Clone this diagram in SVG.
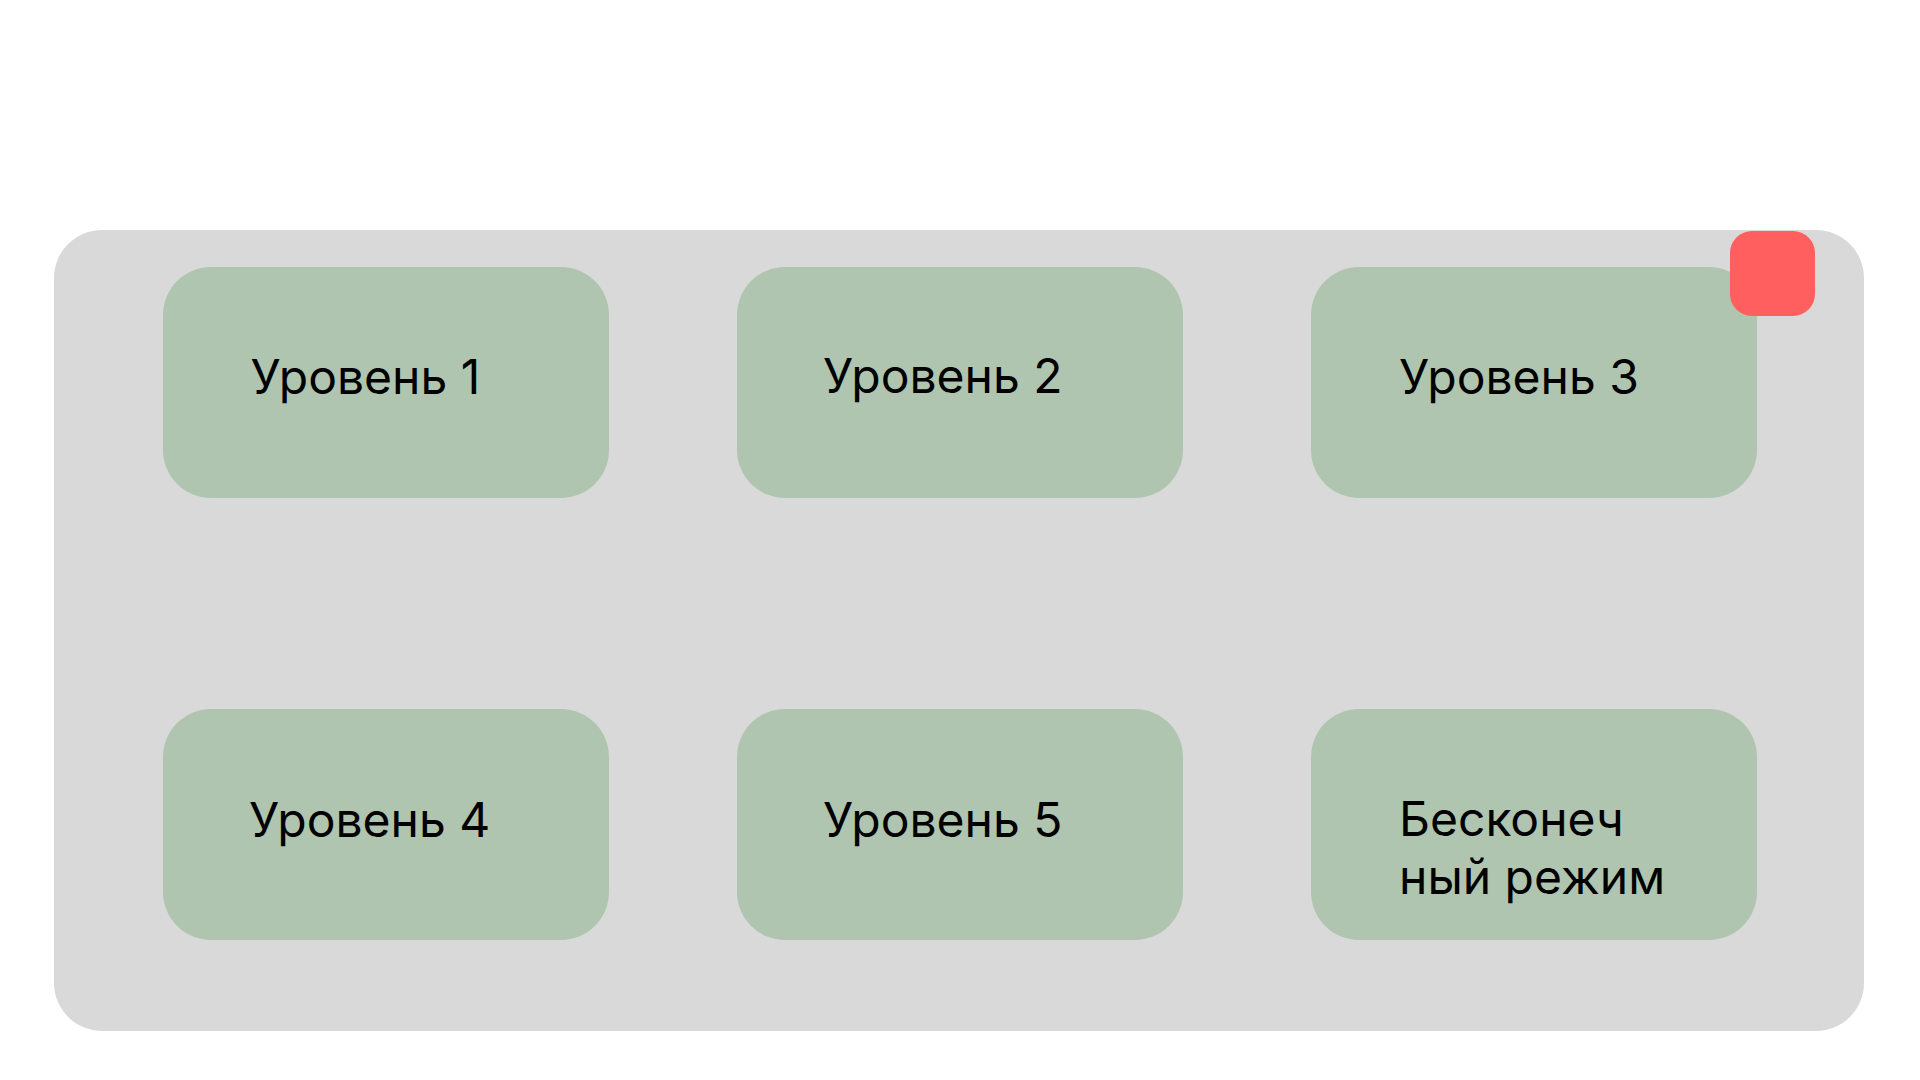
<svg xmlns="http://www.w3.org/2000/svg" width="1920" height="1080" viewBox="0 0 1920 1080">
  <style>
    .panel { fill: #D9D9D9; }
    .node { fill: #AFC5AF; }
    .close { fill: #FF5F5F; }
    .label { font-family: Inter, "Noto Sans", "Liberation Sans", sans-serif; font-size: 48px; fill: #000000; }
  </style>
  <rect width="1920" height="1080" fill="#FFFFFF"/>
  <g id="panel">
    <rect class="panel" x="54" y="230" width="1810" height="801" rx="48" ry="48"/>
  </g>
  <g id="level1">
    <rect class="node" x="163" y="267" width="446" height="231" rx="48" ry="48"/>
    <text class="label" x="250.5" y="394">Уровень 1</text>
  </g>
  <g id="level2">
    <rect class="node" x="737" y="267" width="446" height="231" rx="48" ry="48"/>
    <text class="label" x="823" y="393">Уровень 2</text>
  </g>
  <g id="level3">
    <rect class="node" x="1311" y="267" width="446" height="231" rx="48" ry="48"/>
    <text class="label" x="1399" y="394">Уровень 3</text>
  </g>
  <g id="level4">
    <rect class="node" x="163" y="709" width="446" height="231" rx="48" ry="48"/>
    <text class="label" x="249" y="837">Уровень 4</text>
  </g>
  <g id="level5">
    <rect class="node" x="737" y="709" width="446" height="231" rx="48" ry="48"/>
    <text class="label" x="823" y="837">Уровень 5</text>
  </g>
  <g id="endless">
    <rect class="node" x="1311" y="709" width="446" height="231" rx="48" ry="48"/>
    <text class="label" x="1399" y="836">Бесконеч</text>
    <text class="label" x="1399" y="894">ный режим</text>
  </g>
  <g id="close-button">
    <rect class="close" x="1730" y="231" width="85" height="85" rx="22" ry="22"/>
  </g>
  <g id="connectors"></g>
</svg>
